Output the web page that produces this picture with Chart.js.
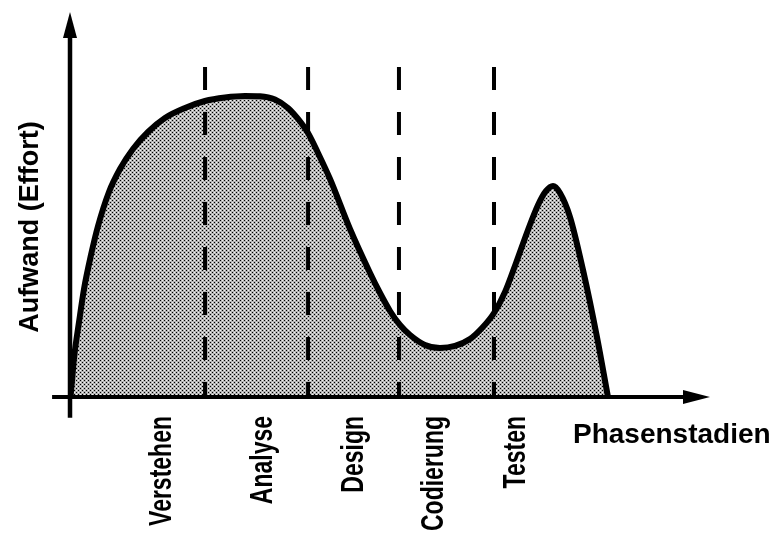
<!DOCTYPE html>
<html>
<head>
<meta charset="utf-8">
<script src="https://cdn.jsdelivr.net/npm/chart.js@4.4.1/dist/chart.umd.min.js"></script>
<style>
  html, body { margin: 0; padding: 0; background: #fff; }
  #c { display: block; }
</style>
</head>
<body>
<canvas id="c" width="776" height="534"></canvas>
<script>
// ---- data ----
const categories = ['Verstehen', 'Analyse', 'Design', 'Codierung', 'Testen'];
const categoryPositions = [14.4, 30.2, 44.4, 57.0, 69.8];
const phaseBoundaries = [21.1, 37.2, 51.4, 66.25];
const boundaryTop = 85.7;
const effortX = [0.08, 0.31, 0.63, 1.41, 2.19, 3.28, 4.38, 6.09, 7.81, 9.84, 12.19, 14.84, 17.97, 21.09, 24.22, 27.34, 29.69, 32.03, 34.06, 35.63, 37.19, 38.75, 40.63, 43.75, 46.88, 48.44, 50.0, 51.56, 53.13, 55.47, 57.81, 60.16, 62.5, 64.38, 66.25, 67.97, 69.69, 71.56, 73.13, 74.38, 75.47, 76.56, 78.13, 80.16, 82.34, 84.06];
const effortY = [0, 4.16, 10.13, 19.48, 28.05, 36.88, 44.42, 53.25, 59.22, 64.42, 68.83, 72.47, 75.06, 76.88, 77.79, 78.18, 78.10, 77.27, 75.06, 72.21, 68.57, 63.38, 56.62, 43.64, 32.21, 27.01, 22.34, 18.70, 16.10, 13.51, 12.73, 13.25, 15.06, 17.92, 21.82, 27.27, 34.81, 43.38, 49.87, 53.51, 54.81, 52.99, 46.75, 32.99, 15.58, 0];
const xTitle = 'Phasenstadien';
const yTitle = 'Aufwand (Effort)';

// ---- stipple pattern ----
function makePattern() {
  const p = document.createElement('canvas');
  p.width = 4; p.height = 4;
  const g = p.getContext('2d');
  g.fillStyle = '#b4b4b4';
  g.fillRect(0, 0, 4, 4);
  g.fillStyle = '#000';
  g.fillRect(0, 0, 1, 1);
  g.fillRect(2, 2, 1, 1);
  g.fillStyle = '#f4f4f4';
  g.fillRect(2, 0, 1, 1);
  g.fillRect(0, 2, 1, 1);
  return document.getElementById('c').getContext('2d').createPattern(p, 'repeat');
}

const FONT = '"Liberation Sans", Arial, Helvetica, sans-serif';

const effortData = effortX.map((x, i) => ({ x: x, y: effortY[i] }));
const boundaryDatasets = phaseBoundaries.map(b => ({
  data: [{ x: b, y: boundaryTop }, { x: b, y: 0 }],
  borderColor: '#000',
  borderWidth: 4,
  borderDash: [23, 22],
  borderCapStyle: 'butt',
  pointRadius: 0,
  fill: false,
  tension: 0
}));

const axesPlugin = {
  id: 'axesPlugin',
  afterDraw(chart) {
    const ctx = chart.ctx;
    const xs = chart.scales.x, ys = chart.scales.y;
    const x0 = xs.getPixelForValue(0);
    const y0 = ys.getPixelForValue(0);
    const xEnd = xs.getPixelForValue(100);
    const yEnd = ys.getPixelForValue(100);
    ctx.save();
    ctx.strokeStyle = '#000';
    ctx.fillStyle = '#000';
    ctx.lineWidth = 4.5;
    ctx.lineCap = 'butt';
    // y axis
    ctx.beginPath();
    ctx.moveTo(x0, ys.getPixelForValue(-5.4));
    ctx.lineTo(x0, yEnd + 20);
    ctx.stroke();
    ctx.beginPath();
    ctx.moveTo(x0, yEnd);
    ctx.lineTo(x0 - 7, yEnd + 26);
    ctx.lineTo(x0 + 7, yEnd + 26);
    ctx.closePath();
    ctx.fill();
    // x axis
    ctx.lineWidth = 4;
    ctx.beginPath();
    ctx.moveTo(xs.getPixelForValue(-2.8), y0);
    ctx.lineTo(xEnd - 20, y0);
    ctx.stroke();
    ctx.beginPath();
    ctx.moveTo(xEnd, y0);
    ctx.lineTo(xEnd - 27, y0 - 7);
    ctx.lineTo(xEnd - 27, y0 + 7);
    ctx.closePath();
    ctx.fill();

    // category labels (rotated, tall glyphs)
    categories.forEach((c, i) => {
      const px = xs.getPixelForValue(categoryPositions[i]);
      ctx.save();
      ctx.translate(px, y0 + 19);
      ctx.rotate(-Math.PI / 2);
      ctx.scale(1, 1.35);
      ctx.font = 'bold 23px ' + FONT;
      ctx.textAlign = 'right';
      ctx.textBaseline = 'middle';
      ctx.fillText(c, 0, 0);
      ctx.restore();
    });

    // x title
    ctx.font = 'bold 28px ' + FONT;
    ctx.textAlign = 'left';
    ctx.textBaseline = 'alphabetic';
    ctx.fillText(xTitle, 573, y0 + 46);

    // y title
    ctx.save();
    ctx.translate(31, 227);
    ctx.rotate(-Math.PI / 2);
    ctx.font = 'bold 27px ' + FONT;
    ctx.textAlign = 'center';
    ctx.textBaseline = 'middle';
    ctx.fillText(yTitle, 0, 0);
    ctx.restore();
    ctx.restore();
  }
};

new Chart(document.getElementById('c'), {
  type: 'line',
  data: {
    datasets: [
      {
        data: effortData,
        borderColor: '#000',
        borderWidth: 6,
        backgroundColor: makePattern(),
        fill: 'origin',
        pointRadius: 0,
        cubicInterpolationMode: 'monotone',
        borderJoinStyle: 'round'
      },
      ...boundaryDatasets
    ]
  },
  options: {
    responsive: false,
    animation: false,
    devicePixelRatio: 1,
    layout: { padding: { left: 70, right: 66, top: 12, bottom: 137 } },
    scales: {
      x: { type: 'linear', min: 0, max: 100, display: false },
      y: { type: 'linear', min: 0, max: 100, display: false }
    },
    plugins: {
      legend: { display: false },
      tooltip: { enabled: false },
      filler: { drawTime: 'beforeDatasetsDraw' }
    },
    events: []
  },
  plugins: [axesPlugin]
});
</script>
</body>
</html>
